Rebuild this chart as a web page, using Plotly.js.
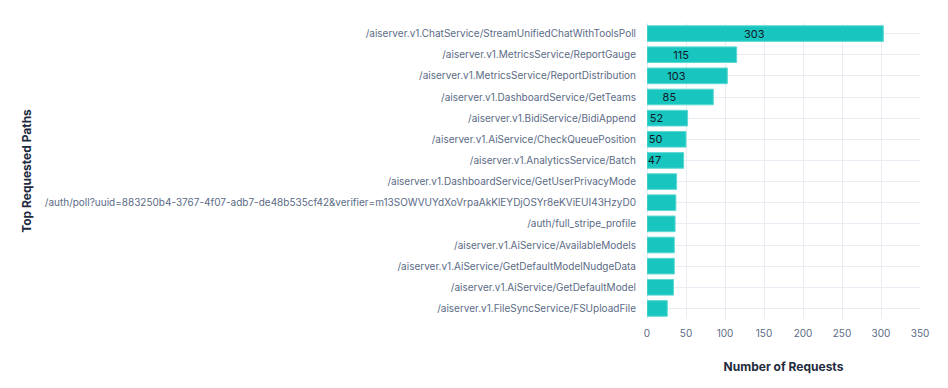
<!DOCTYPE html>
<html>
<head>
<meta charset="utf-8">
<script src="https://cdn.plot.ly/plotly-3.0.1.min.js"></script>
<style>html,body{margin:0;padding:0;background:#fff;}#chart{width:948px;height:388px;}</style>
</head>
<body>
<div id="chart"></div>
<script>
const paths = [
  "/aiserver.v1.ChatService/StreamUnifiedChatWithToolsPoll",
  "/aiserver.v1.MetricsService/ReportGauge",
  "/aiserver.v1.MetricsService/ReportDistribution",
  "/aiserver.v1.DashboardService/GetTeams",
  "/aiserver.v1.BidiService/BidiAppend",
  "/aiserver.v1.AiService/CheckQueuePosition",
  "/aiserver.v1.AnalyticsService/Batch",
  "/aiserver.v1.DashboardService/GetUserPrivacyMode",
  "/auth/poll?uuid=883250b4-3767-4f07-adb7-de48b535cf42&verifier=m13SOWVUYdXoVrpaAkKlEYDjOSYr8eKViEUI43HzyD0",
  "/auth/full_stripe_profile",
  "/aiserver.v1.AiService/AvailableModels",
  "/aiserver.v1.AiService/GetDefaultModelNudgeData",
  "/aiserver.v1.AiService/GetDefaultModel",
  "/aiserver.v1.FileSyncService/FSUploadFile"
];
const requests = [303, 115, 103, 85, 52, 50, 47, 38, 37, 36, 35, 35, 34, 26];
const xTicks = [0, 50, 100, 150, 200, 250, 300, 350];
const labelMin = 47;

const trace = {
  type: "bar",
  orientation: "h",
  y: paths,
  x: requests,
  text: requests.map(v => v >= labelMin ? String(v) + "\u00a0\u00a0\u00a0\u00a0\u00a0\u00a0\u00a0" : ""),
  textposition: "inside",
  insidetextanchor: "middle",
  constraintext: "none",
  textangle: 0,
  textfont: {family: "Inter, sans-serif", size: 11, color: "#111827"},
  marker: {color: "#18c6bf", line: {color: "#5ed8d2", width: 1}},
  hoverinfo: "x+y"
};

const layout = {
  width: 948, height: 388,
  margin: {l: 647, r: 28, t: 23, b: 69},
  paper_bgcolor: "#ffffff",
  plot_bgcolor: "#ffffff",
  bargap: 0.26,
  showlegend: false,
  font: {family: "Inter, sans-serif", size: 10, color: "#5b6b85"},
  xaxis: {
    range: [0, 350],
    tickvals: xTicks,
    ticktext: xTicks.map(String),
    gridcolor: "#e9ecf3",
    gridwidth: 1,
    zeroline: true, zerolinecolor: "#e9ecf3", zerolinewidth: 1,
    showline: false,
    tickfont: {size: 10, color: "#5b6b85"},
    ticklen: 0,
    ticklabelstandoff: 7,
    title: {text: "Number of Requests", font: {size: 12, color: "#222b3d", weight: "bold"}, standoff: 24}
  },
  yaxis: {
    autorange: "reversed",
    type: "category",
    gridcolor: "#e9ecf3",
    gridwidth: 1,
    showline: false,
    tickfont: {size: 10, color: "#5b6b85"},
    ticklen: 0,
    ticklabelstandoff: 10,
    automargin: false,
    title: {text: "Top Requested Paths", font: {size: 12, color: "#222b3d", weight: "bold"}, standoff: 10}
  }
};

Plotly.newPlot("chart", [trace], layout, {displayModeBar: false, responsive: false});
</script>
</body>
</html>
